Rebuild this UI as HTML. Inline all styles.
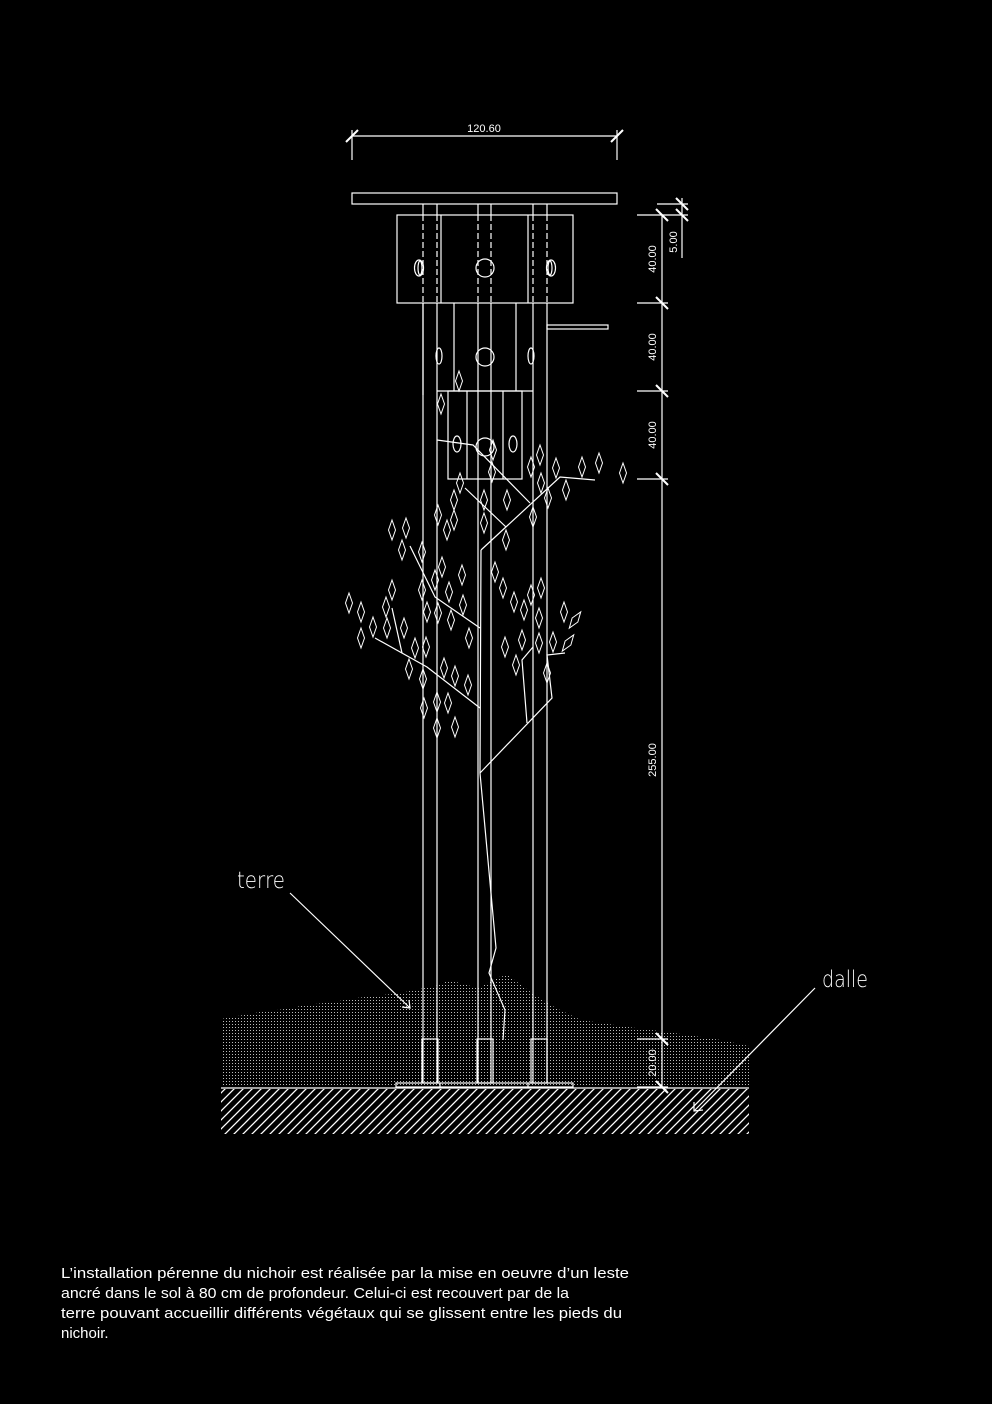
<!DOCTYPE html>
<html><head><meta charset="utf-8"><style>
html,body{margin:0;padding:0;background:#000;}
svg{display:block;}
</style></head><body>
<svg width="992" height="1404" viewBox="0 0 992 1404" xmlns="http://www.w3.org/2000/svg">
<defs>
<pattern id="dots" width="3" height="3" patternUnits="userSpaceOnUse">
<rect x="1" y="1" width="1" height="1" fill="#bbb"/>
</pattern>
<pattern id="hatch" width="9" height="9" patternUnits="userSpaceOnUse">
<line x1="0" y1="9" x2="9" y2="0" stroke="#fff" stroke-width="1.3"/>
<line x1="-1" y1="1" x2="1" y2="-1" stroke="#fff" stroke-width="1.3"/>
<line x1="8" y1="10" x2="10" y2="8" stroke="#fff" stroke-width="1.3"/>
</pattern>
<symbol id="lf" overflow="visible"><path d="M0,-10 L3.5,0 L0,10 L-3.5,0 Z" fill="none" stroke="#fff" stroke-width="1"/></symbol>
</defs>
<rect width="992" height="1404" fill="#000"/>

<polygon fill="url(#dots)" points="221,1087 221,1019 260,1012 285,1009 306,1005 333,1002 356,998 383,995 405,992 439,985 449,980 478,988 499,977 508,975 521,985 535,995 556,1008 581,1020 628,1027 674,1033 721,1040 749,1046 749,1087"/>
<rect x="221" y="1089" width="528" height="45" fill="url(#hatch)"/>
<line x1="221" y1="1088" x2="749" y2="1088" stroke="#fff" stroke-width="1.3"/>

<g stroke="#fff" stroke-width="1.2" fill="none">
<line x1="352" y1="136" x2="617" y2="136"/>
<line x1="352" y1="130" x2="352" y2="160"/>
<line x1="617" y1="130" x2="617" y2="160"/>
<line x1="346" y1="142" x2="358" y2="130" stroke-width="2"/>
<line x1="611" y1="142" x2="623" y2="130" stroke-width="2"/>

<rect x="352" y="193" width="265" height="11"/>
<line x1="423" y1="204" x2="423" y2="1083"/>
<line x1="437" y1="204" x2="437" y2="1083"/>
<line x1="478" y1="204" x2="478" y2="1083"/>
<line x1="491" y1="204" x2="491" y2="1083"/>
<line x1="533" y1="204" x2="533" y2="1083"/>
<line x1="547" y1="204" x2="547" y2="1083"/>

<rect x="397" y="215" width="176" height="88" fill="#000"/>
<line x1="441" y1="215" x2="441" y2="303"/>
<line x1="528" y1="215" x2="528" y2="303"/>
<g stroke-dasharray="6,3">
<line x1="423" y1="215" x2="423" y2="303"/><line x1="437" y1="215" x2="437" y2="303"/>
<line x1="478" y1="215" x2="478" y2="303"/><line x1="491" y1="215" x2="491" y2="303"/>
<line x1="533" y1="215" x2="533" y2="303"/><line x1="547" y1="215" x2="547" y2="303"/>
</g>
<ellipse cx="419" cy="268" rx="4.5" ry="8"/><ellipse cx="420" cy="268" rx="2" ry="7"/>
<circle cx="485" cy="268" r="9"/>
<ellipse cx="551" cy="268" rx="4.5" ry="8"/><ellipse cx="550" cy="268" rx="2" ry="7"/>

<line x1="423" y1="303" x2="423" y2="395"/>
<line x1="454" y1="303" x2="454" y2="391"/>
<line x1="516" y1="303" x2="516" y2="391"/>
<line x1="437" y1="391" x2="533" y2="391"/>
<circle cx="485" cy="357" r="9"/>
<ellipse cx="439" cy="356" rx="3" ry="8"/>
<ellipse cx="531" cy="356" rx="3" ry="8"/>
<rect x="547" y="325" width="61" height="4"/>

<rect x="448" y="391" width="74" height="88"/>
<line x1="467" y1="391" x2="467" y2="479"/>
<line x1="503" y1="391" x2="503" y2="479"/>
<circle cx="485" cy="447" r="9"/>
<ellipse cx="457" cy="444" rx="4" ry="8"/>
<ellipse cx="513" cy="444" rx="4" ry="8"/>

<rect x="422" y="1039" width="16" height="44"/>
<rect x="477" y="1039" width="16" height="44"/>
<rect x="531" y="1039" width="16" height="44"/>
<rect x="396" y="1083" width="177" height="4"/>
<line x1="440" y1="1083" x2="440" y2="1087"/>
<line x1="528" y1="1083" x2="528" y2="1087"/>

<line x1="662" y1="215" x2="662" y2="1088"/>
<line x1="637" y1="215" x2="688" y2="215"/>
<line x1="657" y1="204" x2="688" y2="204"/>
<line x1="682" y1="198" x2="682" y2="258"/>
<line x1="637" y1="303" x2="668" y2="303"/>
<line x1="637" y1="391" x2="668" y2="391"/>
<line x1="637" y1="479" x2="668" y2="479"/>
<line x1="637" y1="1039" x2="668" y2="1039"/>
<line x1="637" y1="1087" x2="668" y2="1087"/>
<g stroke-width="2">
<line x1="656" y1="209" x2="668" y2="221"/>
<line x1="676" y1="198" x2="688" y2="210"/>
<line x1="676" y1="209" x2="688" y2="221"/>
<line x1="656" y1="297" x2="668" y2="309"/>
<line x1="656" y1="385" x2="668" y2="397"/>
<line x1="656" y1="473" x2="668" y2="485"/>
<line x1="656" y1="1033" x2="668" y2="1045"/>
<line x1="656" y1="1081" x2="668" y2="1093"/>
</g>

<line x1="290" y1="893" x2="410" y2="1008"/>
<polyline points="402,1007 410,1008 409,1000"/>
<line x1="815" y1="988" x2="694" y2="1111"/>
<polyline points="694,1102 694,1111 703,1110"/>

<polyline points="437,440 473,445 530,503"/>
<polyline points="481,550 560,477 595,480"/>
<line x1="465" y1="488" x2="506" y2="527"/>
<polyline points="481,550 480,773 496,948 489,973 505,1010 503,1040"/>
<polyline points="410,546 435,597 480,628"/>
<polyline points="375,638 427,667 480,708"/>
<line x1="392" y1="608" x2="402" y2="653"/>
<polyline points="480,773 552,698 547,655 565,653"/>
<polyline points="527,723 522,660 533,647"/>
</g>

<g>
<use href="#lf" x="540" y="455"/><use href="#lf" x="531" y="467"/><use href="#lf" x="556" y="468"/>
<use href="#lf" x="582" y="467"/><use href="#lf" x="599" y="463"/><use href="#lf" x="623" y="473"/>
<use href="#lf" x="541" y="483"/><use href="#lf" x="566" y="490"/><use href="#lf" x="548" y="498"/>
<use href="#lf" x="507" y="500"/><use href="#lf" x="533" y="517"/><use href="#lf" x="460" y="483"/>
<use href="#lf" x="492" y="472"/><use href="#lf" x="493" y="450"/><use href="#lf" x="438" y="515"/>
<use href="#lf" x="454" y="520"/><use href="#lf" x="447" y="530"/><use href="#lf" x="484" y="523"/>
<use href="#lf" x="506" y="540"/><use href="#lf" x="392" y="530"/><use href="#lf" x="406" y="528"/>
<use href="#lf" x="402" y="550"/><use href="#lf" x="422" y="552"/><use href="#lf" x="442" y="567"/>
<use href="#lf" x="462" y="575"/><use href="#lf" x="495" y="572"/><use href="#lf" x="503" y="588"/>
<use href="#lf" x="514" y="602"/><use href="#lf" x="524" y="610"/><use href="#lf" x="531" y="595"/>
<use href="#lf" x="541" y="588"/><use href="#lf" x="539" y="618"/><use href="#lf" x="392" y="590"/>
<use href="#lf" x="422" y="590"/><use href="#lf" x="435" y="580"/><use href="#lf" x="449" y="592"/>
<use href="#lf" x="463" y="605"/><use href="#lf" x="349" y="603"/><use href="#lf" x="361" y="612"/>
<use href="#lf" x="386" y="607"/><use href="#lf" x="427" y="612"/><use href="#lf" x="438" y="613"/>
<use href="#lf" x="451" y="620"/><use href="#lf" x="373" y="627"/><use href="#lf" x="387" y="628"/>
<use href="#lf" x="404" y="628"/><use href="#lf" x="361" y="638"/><use href="#lf" x="469" y="638"/>
<use href="#lf" x="415" y="648"/><use href="#lf" x="426" y="647"/><use href="#lf" x="505" y="647"/>
<use href="#lf" x="522" y="640"/><use href="#lf" x="539" y="643"/><use href="#lf" x="553" y="642"/>
<use href="#lf" x="564" y="612"/><use href="#lf" x="516" y="665"/><use href="#lf" x="409" y="669"/>
<use href="#lf" x="444" y="668"/><use href="#lf" x="455" y="676"/><use href="#lf" x="423" y="679"/>
<use href="#lf" x="468" y="685"/><use href="#lf" x="547" y="673"/><use href="#lf" x="424" y="708"/>
<use href="#lf" x="437" y="702"/><use href="#lf" x="448" y="703"/><use href="#lf" x="437" y="728"/>
<use href="#lf" x="455" y="727"/><use href="#lf" x="441" y="404"/><use href="#lf" x="459" y="381"/>
<use href="#lf" x="454" y="500"/><use href="#lf" x="484" y="500"/>
<use href="#lf" x="575" y="620" transform="rotate(35 575 620)"/>
<use href="#lf" x="568" y="643" transform="rotate(35 568 643)"/>
</g>

<g fill="#fff" font-family="Liberation Sans, sans-serif">
<text x="484" y="132" font-size="11" text-anchor="middle">120.60</text>
<text transform="translate(656,259) rotate(-90)" font-size="11" text-anchor="middle">40.00</text>
<text transform="translate(656,347) rotate(-90)" font-size="11" text-anchor="middle">40.00</text>
<text transform="translate(656,435) rotate(-90)" font-size="11" text-anchor="middle">40.00</text>
<text transform="translate(677,242) rotate(-90)" font-size="11" text-anchor="middle">5.00</text>
<text transform="translate(656,760) rotate(-90)" font-size="11" text-anchor="middle">255.00</text>
<text transform="translate(656,1063) rotate(-90)" font-size="11" text-anchor="middle">20.00</text>
<text x="237" y="888" font-size="23" font-family="DejaVu Sans, sans-serif" font-weight="200" textLength="48" lengthAdjust="spacingAndGlyphs">terre</text>
<text x="822" y="987" font-size="23" font-family="DejaVu Sans, sans-serif" font-weight="200" textLength="46" lengthAdjust="spacingAndGlyphs">dalle</text>
<g font-size="15">
<text x="61" y="1278" textLength="568" lengthAdjust="spacingAndGlyphs">L’installation pérenne du nichoir est réalisée par la mise en oeuvre d’un leste</text>
<text x="61" y="1298" textLength="508" lengthAdjust="spacingAndGlyphs">ancré dans le sol à 80 cm de profondeur. Celui-ci est recouvert par de la</text>
<text x="61" y="1318" textLength="561" lengthAdjust="spacingAndGlyphs">terre pouvant accueillir différents végétaux qui se glissent entre les pieds du</text>
<text x="61" y="1338">nichoir.</text>
</g>
</g>
</svg>
</body></html>
